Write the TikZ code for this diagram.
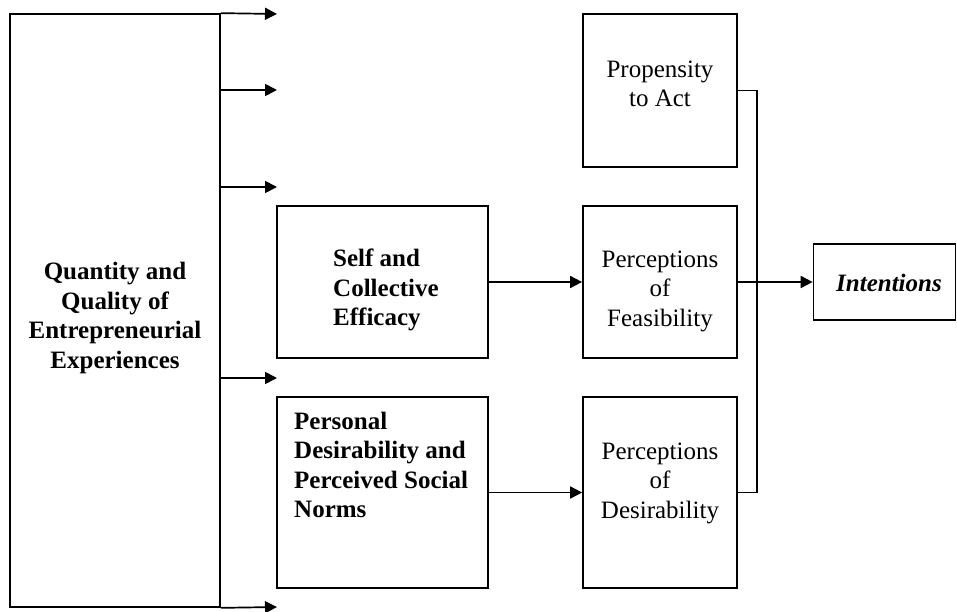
\documentclass[tikz,border=0pt]{standalone}
\usepackage{fontspec}
\setmainfont{Liberation Serif}
\usetikzlibrary{arrows.meta}
\tikzset{
  x=1pt,y=-1pt,
  box/.style={draw,line width=1.7pt,inner sep=0pt,anchor=center},
  txt/.style={inner sep=0pt,font=\fontsize{25}{29.5}\selectfont,align=center},
  btxt/.style={inner sep=0pt,font=\fontsize{25}{29.5}\selectfont\bfseries},
  conn/.style={line width=1.7pt},
  arr/.style={conn,-{Triangle[length=12pt,width=12pt]}}
}
\begin{document}
\begin{tikzpicture}
\useasboundingbox (0,0) rectangle (957,612);
% boxes
\node[box,minimum width=210pt,minimum height=593pt] (exp) at (115,310.5) {};
\node[box,minimum width=211pt,minimum height=152pt] (self) at (382.5,282) {};
\node[box,minimum width=211pt,minimum height=191pt] (pers) at (382.5,492.5) {};
\node[box,minimum width=154pt,minimum height=153pt] (prop) at (660,90.5) {};
\node[box,minimum width=154pt,minimum height=152pt] (feas) at (660,282) {};
\node[box,minimum width=154pt,minimum height=191pt] (des) at (660,492.5) {};
\node[box,minimum width=142pt,minimum height=76pt] (int) at (884.5,282) {};
% texts
\node[btxt,align=center] (expt) at (115,318) {Quantity and\\Quality of\\Entrepreneurial\\Experiences};
\node[btxt,align=left,anchor=west] (selft) at (333,290) {Self and\\Collective\\Efficacy};
\node[btxt,align=left,anchor=west] (perst) at (294,465) {Personal\\Desirability and\\Perceived Social\\Norms};
\node[txt] (propt) at (660,84) {Propensity\\to Act};
\node[txt] (feast) at (660,291) {Perceptions\\of\\Feasibility};
\node[txt] (dest) at (660,483) {Perceptions\\of\\Desirability};
\node[txt,font=\fontsize{25}{29.5}\selectfont\bfseries\itshape] (intt) at (889,283) {Intentions};
% free arrow ends from the experience box
\coordinate (a1) at (277,14);
\coordinate (a2) at (277,90);
\coordinate (a3) at (277,187);
\coordinate (a4) at (277,378);
\coordinate (a5) at (277,607);
\draw[arr] (exp.north east) -- (a1);
\draw[arr] (exp.east |- a2) -- (a2);
\draw[arr] (exp.east |- a3) -- (a3);
\draw[arr] (exp.east |- a4) -- (a4);
\draw[arr] (exp.south east) -- (a5);
% middle arrows
\draw[arr] (self.east) -- (feas.west);
\draw[arr] (pers.east) -- (des.west);
% to intentions
\draw[conn] (prop.east) -- ++(19,0) |- (des.east);
\draw[arr] (feas.east) -- (int.west);
\end{tikzpicture}
\end{document}
